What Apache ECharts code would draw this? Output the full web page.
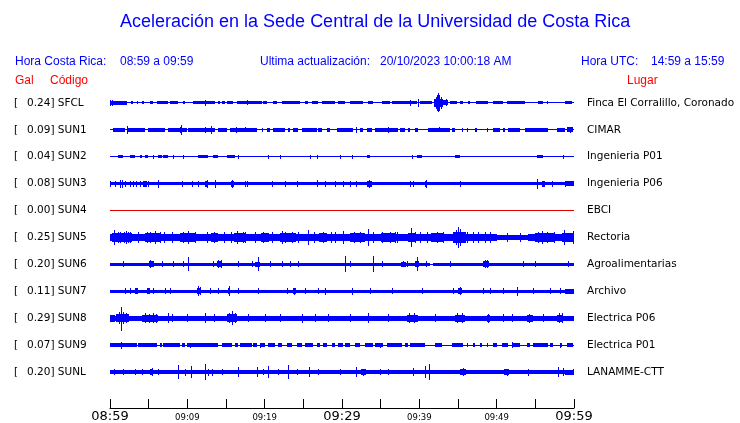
<!DOCTYPE html>
<html>
<head>
<meta charset="utf-8">
<script src="https://cdn.jsdelivr.net/npm/echarts@6/dist/echarts.min.js"></script>
<style>html,body{margin:0;padding:0;background:#fff}#c{width:740px;height:423px}</style>
</head>
<body>
<div id="c"></div>
<script>
// ---------------- DATA ----------------
const codes = ['SFCL','SUN1','SUN2','SUN3','SUN4','SUN5','SUN6','SUN7','SUN8','SUN9','SUNL'];
const peaks = ['0.24','0.09','0.04','0.08','0.00','0.25','0.20','0.11','0.29','0.07','0.20'];
const places = ['Finca El Corralillo, Coronado','CIMAR','Ingenieria P01','Ingenieria P06','EBCI','Rectoria','Agroalimentarias','Archivo','Electrica P06','Electrica P01','LANAMME-CTT'];
const tickMinutes = [0,10,20,30,40,50,60];
const tickLabels = ['08:59','09:09','09:19','09:29','09:39','09:49','09:59'];
const bigTicks = ['08:59','09:29','09:59'];

// Each trace: base band [t0,t1,halfAmp], blocks [t0,t1,halfAmp], spikes [t,up,(down)] (minutes from 08:59, relative amplitude)
const SFCL_BASE = [[0,60,0.5]];
const SFCL_BLOCKS = [[0,2.2,2],[2.7,3.0,1.5],[3.5,3.6,1.5],[4.1,4.4,1.5],[5.2,5.6,1.5],[6.1,7.5,1.5],[7.8,8.8,1.5],[9.4,9.7,1.5],[10.7,13.6,1.5],[14.0,14.2,1.5],[14.5,14.9,1.5],[15.1,15.9,1.5],[16.4,19.7,1.5],[19.8,20.3,1.5],[21.1,21.6,1.5],[22.2,24.6,1.5],[25.2,25.6,1.5],[26.1,26.9,1.5],[27.4,29.1,1.5],[29.5,30.4,1.5],[31.0,32.7,1.5],[33.4,34.0,1.5],[35.2,36.2,1.5],[36.5,39.7,1.5],[40.1,41.6,1.5],[41.9,43.1,4],[43.1,43.7,2.5],[44.0,44.9,1.5],[45.3,45.6,1.5],[46.3,46.5,1.5],[47.3,48.9,1.5],[49.5,50.8,1.5],[51.3,53.7,1.5],[55.3,56.0,1.5],[56.5,56.7,1.5],[58.8,59.7,1.5]];
const SFCL_SPIKES = [[0,3],[0.2,3],[12.3,3],[17.7,2.5],[38.8,3],[39.8,4],[42.1,6],[42.3,8],[42.4,9.5],[42.6,8],[42.8,6],[43.4,3.5]];

const SUN1_BASE = [[0,60,0.5]];
const SUN1_BLOCKS = [[0.4,1.9,1.7],[2.2,4.5,1.7],[4.9,7.1,1.7],[7.5,10.0,1.7],[10.1,12.5,1.7],[12.5,13.6,1.7],[14.0,15.1,1.7],[15.5,19.0,1.7],[19.7,19.8,1.7],[20.3,20.7,1.7],[21.1,22.6,1.7],[23.0,23.3,1.7],[23.7,24.3,1.7],[24.8,26.8,1.7],[26.9,27.4,1.7],[28.1,28.5,1.7],[29.4,31.4,1.7],[32.3,32.7,1.7],[33.2,33.9,1.7],[34.3,37.2,1.7],[37.5,38.1,1.7],[38.5,38.8,1.7],[39.4,39.8,1.7],[41.1,44.0,1.7],[44.2,44.6,1.7],[45.5,45.6,1.7],[46.2,46.3,1.7],[47.2,47.5,1.7],[48.7,48.9,1.7],[49.5,50.4,1.7],[50.8,51.1,1.7],[51.5,53.0,1.7],[53.7,56.6,1.7],[57.8,58.8,1.7],[59.1,59.9,2.5]];
const SUN1_SPIKES = [[2.2,4],[9.0,3],[9.2,5],[12.3,3],[13.1,4],[16.3,3],[17.5,2.5],[31.8,3],[35.9,3],[42.5,2.5],[59.5,3]];

const SUN2_BASE = [[0,60,0.5]];
const SUN2_BLOCKS = [[1.0,1.7,1.5],[2.6,3.2,1.5],[3.9,4.1,1.5],[4.5,4.9,1.5],[6.2,6.7,1.5],[6.9,7.5,1.5],[11.4,12.7,1.5],[13.3,14.0,1.5],[15.1,16.2,1.5],[33.2,33.6,1.5],[39.7,40.3,1.5],[44.6,45.3,1.5],[55.2,56.0,1.5]];
const SUN2_SPIKES = [[5.6,2],[8.1,2],[9.4,2],[16.6,2],[20.4,2],[22.0,2],[25.9,2],[26.8,2],[29.7,2],[31.3,2],[39.0,2],[58.6,2]];

const SUN3_BASE = [[0,60,1.8]];
const SUN3_BLOCKS = [[4.3,4.8,3],[12.3,12.7,3],[15.6,16.0,3],[33.2,33.9,3],[40.7,41.0,3],[55.9,56.2,3],[58.8,60,2.5]];
const SUN3_SPIKES = [[0,3],[0.6,3],[1.3,4],[1.6,4],[2.0,3],[2.6,3],[3.0,3],[3.4,3],[3.9,3],[4.9,3],[6.2,4],[9.3,3],[10.6,3],[11.4,3],[12.5,4],[13.6,4],[15.8,4],[17.5,3],[17.7,3],[21.0,3],[22.6,3],[24.2,3],[26.8,3.5],[27.8,3],[29.1,3],[30.1,3],[31.0,3],[31.8,3],[33.5,4],[38.8,3],[39.2,3],[40.9,4],[45.3,3],[55.2,5],[57.2,3],[58.8,3]];

const SUN4_BASE = [[0,60,0.5]];
const SUN4_BLOCKS = [];
const SUN4_SPIKES = [];

const SUN5_BASE = [[0,50,3.5],[50,54,2.5],[54,60,3.5]];
const SUN5_BLOCKS = [[0.3,2.8,4.5],[4.5,6.5,4.5],[9,11,4.5],[13,14,4.5],[16,17.5,4.5],[19.5,20.5,4.5],[22,24,4.5],[27,28,4.5],[31,33,4.5],[35,37,4.5],[38.5,39.5,4.5],[41.5,43,4.5],[44.3,46,5.5],[55,57.5,4.5],[58.5,60,5]];
const SUN5_SPIKES = [[0.5,8],[1.0,6],[1.3,5.5],[1.8,6],[2.1,7],[2.3,6],[2.6,5.5],[3.6,5.5],[4.8,6],[5.2,5.5],[5.8,7],[6.5,6],[7.0,5.5],[8.0,5.5],[9.5,6],[10.1,7],[11.0,5.5],[12.5,6],[13.5,6],[14.8,5.5],[15.6,6],[16.4,7],[17.2,6],[17.5,6],[18.7,6],[19.8,5.5],[20.9,5.5],[22.2,7],[22.6,6],[23.5,6],[24.3,5.5],[25.6,8],[26.4,6],[27.5,5.5],[28.6,5.5],[29.1,6],[30.1,7],[31.5,6],[32.3,5.5],[33.4,9],[34.0,6],[35.2,5.5],[36.2,6],[36.8,6],[37.1,6],[38.9,10],[39.5,5.5],[40.1,6],[41.0,6],[42.3,6],[43.1,5.5],[44.8,8],[45.0,11],[45.2,9],[46.2,6],[46.9,6],[47.6,6],[48.5,5.5],[49.1,6],[51.3,5],[53.0,5],[55.3,6],[55.9,7],[56.5,6],[57.4,5.5],[58.7,8],[59.9,7]];

const SUN6_BASE = [[0,28.7,1.8],[28.7,30.0,1.3],[30.0,41.4,1.8],[41.4,41.8,0.5],[41.8,60,1.8]];
const SUN6_BLOCKS = [[5.0,5.5,3],[13.8,14.5,3],[18.8,19.4,2.5],[37.6,38.3,2.5],[39.4,40,3],[48.2,49,3]];
const SUN6_SPIKES = [[1.7,3],[5.2,4],[5.6,3],[6.7,3],[8.1,3],[9.4,3],[10.1,7],[13.3,3],[14.0,4],[14.3,4],[16.6,3],[18.4,3],[19.1,7],[20.7,3],[22.2,3],[23.3,3],[24.3,3],[30.4,8],[31.0,3],[34.0,8],[35.2,3],[37.9,3],[38.4,3],[39.7,7],[40.9,3],[44.0,3],[48.5,4],[48.7,4],[53.4,3],[55.0,3],[59.2,3]];

const SUN7_BASE = [[0,60,1.8]];
const SUN7_BLOCKS = [[3.2,3.6,3],[4.8,5.2,3],[11.2,11.7,3],[15.3,15.5,3],[23.6,24.1,3],[45.0,45.5,3],[58.8,60,2.5]];
const SUN7_SPIKES = [[1.9,3],[2.6,3],[5.6,3],[7.1,3],[7.8,3],[11.4,5],[11.6,4],[12.9,3],[14.0,3],[15.4,5],[16.6,3],[19.1,3],[22.9,3],[23.8,3.5],[25.2,3],[26.9,3],[27.8,3.5],[31.3,3.5],[33.6,3],[36.5,3],[40.3,3],[44.3,3],[45.2,4],[48.2,3],[49.1,3],[50.8,3],[52.6,4.5],[54.7,3],[56.9,3],[58.2,3]];

const SUN8_BASE = [[0,60,2.7]];
const SUN8_BLOCKS = [[0,0.6,3.5],[0.8,2.5,4],[4.1,6.2,3.5],[15.1,16.4,4],[38.4,39.8,3.5],[44.6,45.9,3.5],[48.7,49.1,3.5],[53.9,54.7,3.5],[57.8,58.6,3.5]];
const SUN8_SPIKES = [[1.4,11,13],[1.1,6],[1.7,6],[2.1,5],[4.5,5],[5.0,4.5],[5.5,5],[5.9,4.5],[7.5,5],[8.0,4],[10.0,4],[12.3,5],[13.5,4],[15.4,5],[15.8,7],[16.1,5],[17.8,4],[20.0,4],[22.0,4],[24.8,4.5],[26.5,4],[28.2,4],[31,4],[33.4,5],[36,4],[38.7,5],[39.3,5],[42,4],[44.9,5],[45.5,5],[48.9,4.5],[50.8,4],[52,4],[54.2,4.5],[56,4],[58.0,5],[58.4,5]];

const SUN9_BASE = [[0,60,0.5]];
const SUN9_BLOCKS = [[0,3.5,1.7],[3.6,6.1,1.7],[6.5,6.7,1.7],[6.9,9.1,1.7],[9.3,9.7,1.7],[10.0,14.0,1.7],[14.5,15.8,1.7],[16.2,16.6,1.7],[16.8,18.4,1.7],[18.5,19.0,1.7],[19.4,20.0,1.7],[20.4,21.3,1.7],[21.7,22.2,1.7],[22.9,23.5,1.7],[24.2,24.8,1.7],[25.2,26.2,1.7],[26.8,27.2,1.7],[27.5,28.1,1.7],[28.7,29.1,1.7],[29.5,30.1,1.7],[30.4,31.0,1.7],[31.7,32.3,1.7],[33.0,34.0,1.7],[34.3,35.3,1.7],[35.8,37.8,1.7],[38.1,38.5,1.7],[38.8,40.7,1.7],[42.0,42.9,1.7],[44.2,45.6,1.7],[46.2,46.3,1.7],[46.9,47.2,1.7],[47.8,48.1,1.7],[48.7,48.9,1.7],[49.5,50.0,1.7],[50.7,51.5,1.7],[52.1,53.0,1.7],[53.9,54.3,1.7],[54.7,56.6,1.7],[56.9,57.3,1.7],[58.2,58.4,1.7],[59.1,59.9,1.7]];
const SUN9_SPIKES = [[1.4,3.5],[10.3,2.5],[19.4,2.5],[34.9,2.5],[52.0,3],[58.2,2.5]];

const SUNL_BASE = [[0,60,1.8]];
const SUNL_BLOCKS = [[5.2,5.6,3],[32.5,33.1,3],[45.3,46.0,3],[51.0,51.6,3],[58.8,60,2.5]];
const SUNL_SPIKES = [[0.5,3],[1.7,3],[3.2,3],[4.1,3],[5.4,4],[6.2,3],[8.8,7],[9.7,3.5],[10.5,6],[12.3,8],[12.7,3.5],[13.2,3.5],[14.5,3],[16.6,5],[19.0,5],[19.8,3],[20.4,6],[21.7,3],[23.0,7],[24.2,3],[25.7,5],[26.9,3],[29.7,3],[31.8,5],[32.7,3.5],[34.9,3],[35.9,3],[39.2,4],[40.7,6],[41.2,8],[45.6,4],[51.3,3.5],[54.0,3.5],[57.9,5],[58.6,4],[59.9,3]];

const TRACE_BASES  = [SFCL_BASE,SUN1_BASE,SUN2_BASE,SUN3_BASE,SUN4_BASE,SUN5_BASE,SUN6_BASE,SUN7_BASE,SUN8_BASE,SUN9_BASE,SUNL_BASE];
const TRACE_BLOCKS = [SFCL_BLOCKS,SUN1_BLOCKS,SUN2_BLOCKS,SUN3_BLOCKS,SUN4_BLOCKS,SUN5_BLOCKS,SUN6_BLOCKS,SUN7_BLOCKS,SUN8_BLOCKS,SUN9_BLOCKS,SUNL_BLOCKS];
const TRACE_SPIKES = [SFCL_SPIKES,SUN1_SPIKES,SUN2_SPIKES,SUN3_SPIKES,SUN4_SPIKES,SUN5_SPIKES,SUN6_SPIKES,SUN7_SPIKES,SUN8_SPIKES,SUN9_SPIKES,SUNL_SPIKES];

// ---------------- CHART ----------------
const BLUE = '#0000ff', RED = '#e00000';
const AMP = 1/27;           // amplitude unit -> trace-spacing units
const Y_MAX = 333/27;

const items = [];
for (let i = 0; i < codes.length; i++) {
  const row = i + 1;
  const col = codes[i] === 'SUN4' ? 1 : 0;
  TRACE_BASES[i].forEach(b => items.push([b[0], b[1], row, b[2], b[2], col]));
  TRACE_BLOCKS[i].forEach(b => items.push([b[0], b[1], row, b[2], b[2], col]));
  TRACE_SPIKES[i].forEach(s => items.push([s[0], s[0], row, s[1], s.length > 2 ? s[2] : s[1], col]));
}

function renderItem(params, api) {
  const t0 = api.value(0), t1 = api.value(1), row = api.value(2);
  const up = api.value(3), down = api.value(4);
  const p0 = api.coord([t0, row - up * AMP]);
  const p1 = api.coord([t1, row + down * AMP]);
  let x0 = Math.round(p0[0]), x1 = Math.round(p1[0]);
  if (x1 <= x0) x1 = x0 + 1;
  let y0 = Math.round(Math.min(p0[1], p1[1])), y1 = Math.round(Math.max(p0[1], p1[1]));
  if (y1 <= y0) y1 = y0 + 1;
  return { type: 'rect', shape: { x: x0, y: y0, width: x1 - x0, height: y1 - y0 },
           style: { fill: api.value(5) === 1 ? RED : BLUE } };
}

const chart = echarts.init(document.getElementById('c'), null, { renderer: 'canvas' });
const hdr = { fontFamily: 'Liberation Sans, Arial, sans-serif', fontSize: 12, fill: BLUE };
chart.setOption({
  animation: false,
  backgroundColor: '#fff',
  grid: { left: 110, width: 464, top: 76, height: 333 },
  graphic: [
    { type: 'text', x: 120, y: 13, style: { text: 'Aceleración en la Sede Central de la Universidad de Costa Rica', fontFamily: 'Liberation Sans, Arial, sans-serif', fontSize: 18, fill: BLUE } },
    { type: 'text', x: 15, y: 56, style: Object.assign({ text: 'Hora Costa Rica:' }, hdr) },
    { type: 'text', x: 120, y: 56, style: Object.assign({ text: '08:59 a 09:59' }, hdr) },
    { type: 'text', x: 260, y: 56, style: Object.assign({ text: 'Ultima actualización:' }, hdr) },
    { type: 'text', x: 380, y: 56, style: Object.assign({ text: '20/10/2023 10:00:18 AM' }, hdr) },
    { type: 'text', x: 581, y: 56, style: Object.assign({ text: 'Hora UTC:' }, hdr) },
    { type: 'text', x: 651, y: 56, style: Object.assign({ text: '14:59 a 15:59' }, hdr) },
    { type: 'text', x: 15, y: 75, style: Object.assign({}, hdr, { text: 'Gal', fill: '#ff0000' }) },
    { type: 'text', x: 50, y: 75, style: Object.assign({}, hdr, { text: 'Código', fill: '#ff0000' }) },
    { type: 'text', x: 627, y: 75, style: Object.assign({}, hdr, { text: 'Lugar', fill: '#ff0000' }) }
  ],
  xAxis: {
    type: 'value', min: 0, max: 60, interval: 5, position: 'bottom',
    axisLine: { show: true, onZero: false, lineStyle: { color: '#000', width: 1 } },
    axisTick: { show: true, inside: true, length: 9, lineStyle: { color: '#000' } },
    splitLine: { show: false },
    axisLabel: {
      show: true, margin: 2, showMinLabel: true, showMaxLabel: true,
      formatter: v => {
        const k = tickMinutes.indexOf(v);
        if (k < 0) return '';
        const lab = tickLabels[k];
        return bigTicks.indexOf(lab) >= 0 ? '{big|' + lab + '}' : '{small|' + lab + '}';
      },
      rich: {
        big: { fontFamily: 'DejaVu Sans', fontSize: 13, color: '#000', lineHeight: 13 },
        small: { fontFamily: 'DejaVu Sans', fontSize: 8.5, color: '#000', lineHeight: 13, padding: [2,0,0,0] }
      }
    }
  },
  yAxis: [
    {
      type: 'value', min: 0, max: Y_MAX, interval: 1, inverse: true, position: 'left',
      axisLine: { show: false }, axisTick: { show: false }, splitLine: { show: false },
      axisLabel: {
        show: true, align: 'left', margin: 96, showMaxLabel: false,
        formatter: v => { const i = Math.round(v) - 1; return (i >= 0 && i < codes.length) ? '{b|[}{v|' + peaks[i] + '] ' + codes[i] + '}' : ''; },
        rich: {
          b: { width: 13, fontFamily: 'DejaVu Sans', fontSize: 10.5, color: '#000' },
          v: { fontFamily: 'DejaVu Sans', fontSize: 10.5, color: '#000' }
        }
      }
    },
    {
      type: 'value', min: 0, max: Y_MAX, interval: 1, inverse: true, position: 'right',
      axisLine: { show: false }, axisTick: { show: false }, splitLine: { show: false },
      axisLabel: {
        show: true, align: 'left', margin: 13, showMaxLabel: false,
        fontFamily: 'DejaVu Sans', fontSize: 10.5, color: '#000',
        formatter: v => { const i = Math.round(v) - 1; return (i >= 0 && i < places.length) ? places[i] : ''; }
      }
    }
  ],
  series: [{
    type: 'custom', renderItem: renderItem, data: items,
    encode: { x: [0, 1], y: 2 }, clip: false, silent: true
  }]
});
</script>
</body>
</html>
